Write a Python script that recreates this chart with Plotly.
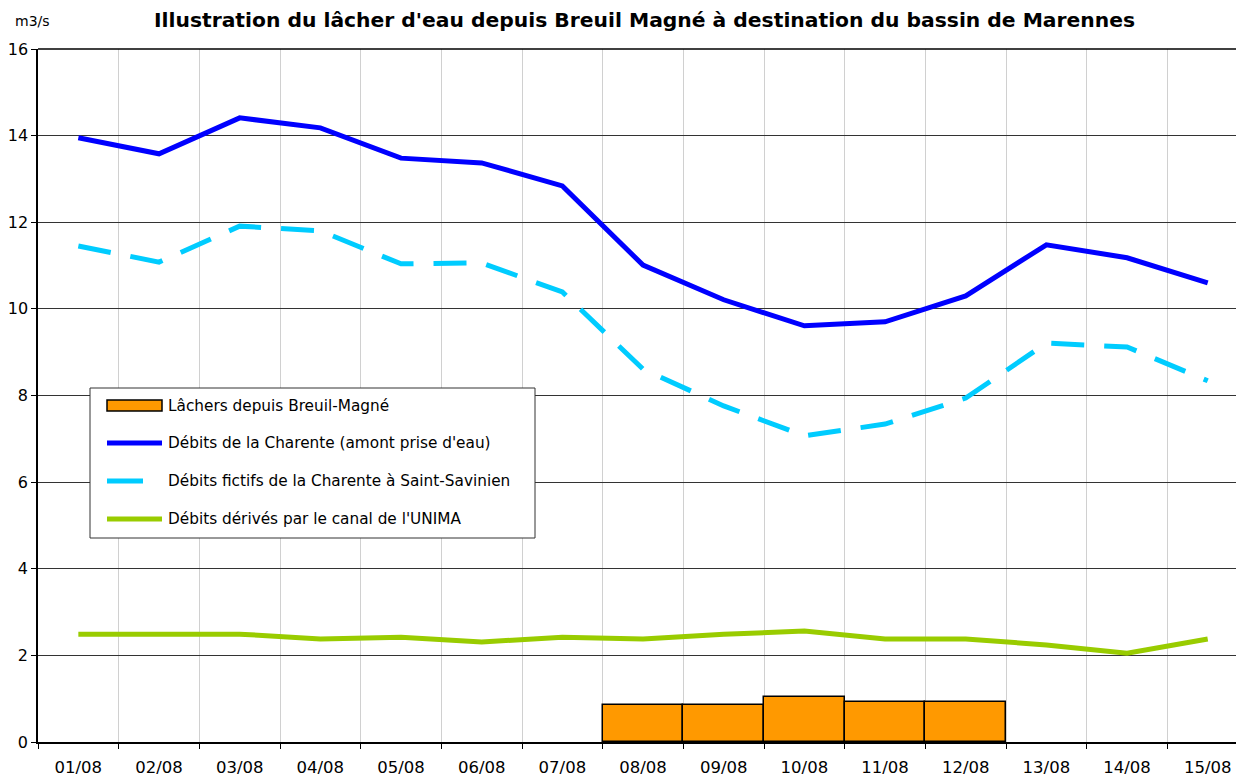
import plotly.graph_objects as go

dates = ["01/08", "02/08", "03/08", "04/08", "05/08", "06/08", "07/08", "08/08",
         "09/08", "10/08", "11/08", "12/08", "13/08", "14/08", "15/08"]
lachers = [None, None, None, None, None, None, None, 0.86, 0.86, 1.04, 0.92, 0.92, None, None, None]
debits_charente = [13.95, 13.58, 14.41, 14.18, 13.48, 13.37, 12.84, 11.01, 10.21, 9.61, 9.70, 10.30, 11.48, 11.18, 10.60]
debits_fictifs = [11.45, 11.08, 11.91, 11.80, 11.04, 11.06, 10.39, 8.61, 7.76, 7.07, 7.34, 7.94, 9.21, 9.12, 8.34]
debits_unima = [2.49, 2.49, 2.49, 2.38, 2.42, 2.31, 2.42, 2.38, 2.49, 2.56, 2.38, 2.38, 2.24, 2.05, 2.38]

names = ["Lâchers depuis Breuil-Magné",
         "Débits de la Charente (amont prise d'eau)",
         "Débits fictifs de la Charente à Saint-Savinien",
         "Débits dérivés par le canal de l'UNIMA"]
colors = ["#FF9900", "#0000FF", "#00CCFF", "#99CC00"]

FONT = "DejaVu Sans"
OFF = 8  # page body margin
W, H = 1244 - OFF, 778 - OFF
# target plot area in window pixels: x 38..1240, y 49..742
L, R, T, B = 38 - OFF, 4, 49 - OFF, 36
PW, PH = W - L - R, H - T - B


def px(x):
    return (x - 38) / PW


def py(y):
    return (742 - y) / PH


fig = go.Figure()
fig.add_trace(go.Bar(x=dates, y=lachers, name=names[0],
                     marker=dict(color=colors[0], line=dict(color="#000000", width=1.5))))
fig.add_trace(go.Scatter(x=dates, y=debits_charente, mode="lines", name=names[1],
                         line=dict(color=colors[1], width=5)))
fig.add_trace(go.Scatter(x=dates, y=debits_fictifs, mode="lines", name=names[2],
                         line=dict(color=colors[2], width=5, dash="33px,20px")))
fig.add_trace(go.Scatter(x=dates, y=debits_unima, mode="lines", name=names[3],
                         line=dict(color=colors[3], width=5)))

fig.update_layout(
    width=W, height=H,
    margin=dict(l=L, r=R, t=T, b=B),
    paper_bgcolor="white", plot_bgcolor="white",
    font=dict(family=FONT, color="#000000", size=14),
    bargap=0,
    showlegend=False,
    xaxis=dict(type="category", tickson="boundaries", showgrid=True, gridcolor="#D0D0D0", gridwidth=1,
               showline=True, linecolor="#000000", linewidth=1.5,
               ticks="outside", ticklen=5, tickcolor="#000000", ticklabelstandoff=9,
               tickfont=dict(family=FONT, size=16.5), range=[-0.5, 14.4], automargin=False),
    yaxis=dict(range=[0, 16], dtick=2, showgrid=True, gridcolor="#333333", gridwidth=1,
               showline=True, linecolor="#000000", linewidth=1.5,
               ticks="outside", ticklen=5, tickcolor="#000000",
               tickfont=dict(family=FONT, size=16), zeroline=False, automargin=False),
)
# top border of plot area
fig.add_shape(type="line", xref="paper", yref="paper", x0=0, x1=1, y0=1, y1=1,
              line=dict(color="#000000", width=1.5))

# title and unit
fig.add_annotation(text="<b>Illustration du lâcher d'eau depuis Breuil Magné à destination du bassin de Marennes</b>",
                   xref="paper", yref="paper", x=px(644), y=py(20), xanchor="center", yanchor="middle",
                   showarrow=False, font=dict(family=FONT, size=20.3, color="#000000"))
fig.add_annotation(text="m3/s", xref="paper", yref="paper", x=px(32), y=py(21),
                   xanchor="center", yanchor="middle", showarrow=False,
                   font=dict(family=FONT, size=14, color="#000000"))

# legend box
fig.add_shape(type="rect", xref="paper", yref="paper", x0=px(90), x1=px(535), y0=py(538), y1=py(388),
              fillcolor="white", line=dict(color="#333333", width=1), layer="above")
fig.add_shape(type="rect", xref="paper", yref="paper", x0=px(107), x1=px(162), y0=py(411), y1=py(400),
              fillcolor=colors[0], line=dict(color="#000000", width=1.5), layer="above")
fig.add_shape(type="line", xref="paper", yref="paper", x0=px(107), x1=px(162), y0=py(443), y1=py(443),
              line=dict(color=colors[1], width=5), layer="above")
fig.add_shape(type="line", xref="paper", yref="paper", x0=px(107), x1=px(143), y0=py(481), y1=py(481),
              line=dict(color=colors[2], width=5), layer="above")
fig.add_shape(type="line", xref="paper", yref="paper", x0=px(107), x1=px(162), y0=py(519), y1=py(519),
              line=dict(color=colors[3], width=5), layer="above")
for i, ycen in enumerate([406, 443, 481, 519]):
    fig.add_annotation(text=names[i], xref="paper", yref="paper", x=px(166), y=py(ycen),
                       xanchor="left", yanchor="middle", showarrow=False,
                       font=dict(family=FONT, size=15.3, color="#000000"))

fig.write_html("out.html")
